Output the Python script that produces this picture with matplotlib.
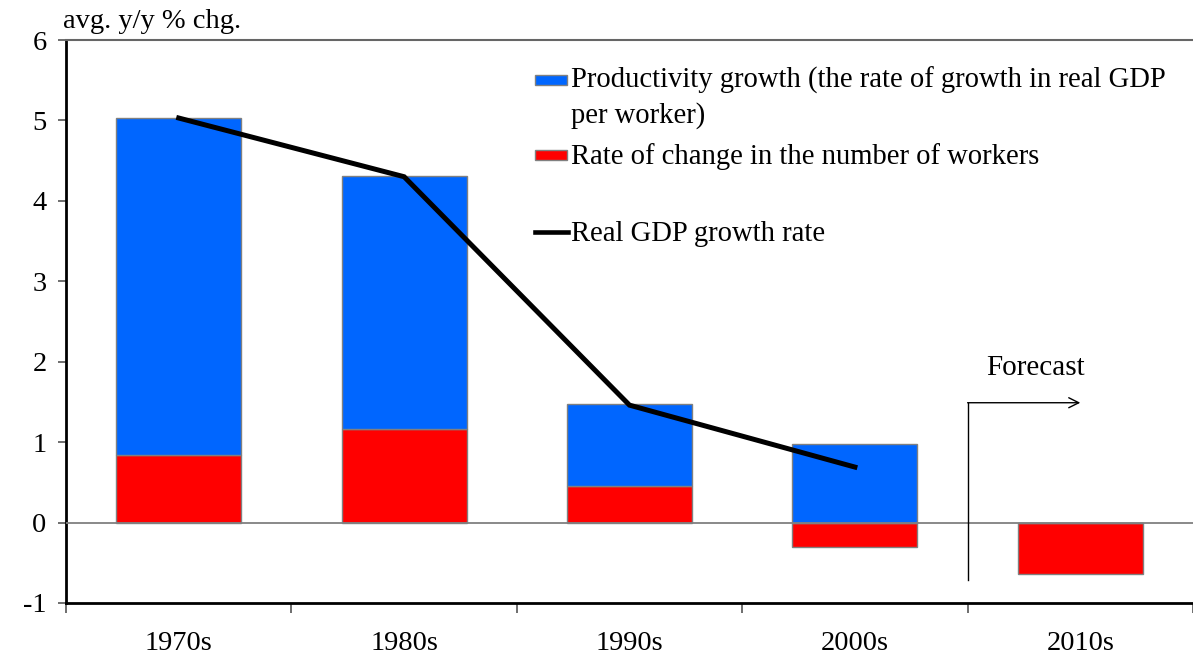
import matplotlib
matplotlib.use("Agg")
import matplotlib.pyplot as plt
import numpy as np
from matplotlib.patches import Rectangle
from matplotlib.lines import Line2D

plt.rcParams['font.family'] = ['Liberation Serif', 'DejaVu Serif']

categories = ['1970s', '1980s', '1990s', '2000s', '2010s']
workers = [0.84, 1.16, 0.46, -0.30, -0.64]
productivity = [4.19, 3.15, 1.01, 0.98, 0.0]
gdp = [5.03, 4.30, 1.46, 0.69]

W, H = 1193, 659
fig = plt.figure(figsize=(W / 100, H / 100), dpi=100)
ax = fig.add_axes([66 / W, 1 - 603 / H, (1193 - 66) / W, (603 - 40) / H])

x = np.arange(len(categories))
bw = 0.555
blue = '#0066FF'
red = '#FF0000'
edge = '#808080'

ax.bar(x, workers, width=bw, color=red, edgecolor=edge, linewidth=1.0, zorder=2)
bottoms = [w if w > 0 else 0 for w in workers]
ax.bar(x, productivity, bottom=bottoms, width=bw, color=blue, edgecolor=edge,
       linewidth=1.0, zorder=2)
ax.plot(x[:len(gdp)], gdp, color='black', linewidth=3.6, zorder=4,
        solid_joinstyle='miter')

ax.axhline(0, color='#808080', linewidth=1.3, zorder=3)

ax.set_xlim(-0.5, 4.5)
ax.set_ylim(-1, 6)
ax.set_yticks(range(-1, 7))
ax.set_yticklabels([str(v) for v in range(-1, 7)], fontsize=20.5)
ax.tick_params(axis='y', direction='out', length=6, width=1.2, color='#555555', pad=8)

ax.set_xticks(np.arange(-0.5, 5.0, 1.0))
ax.set_xticklabels([])
ax.set_xticks(x, minor=True)
ax.set_xticklabels(categories, minor=True, fontsize=20.5)
ax.tick_params(axis='x', which='major', direction='out', length=7, width=1.2, color='#555555')
ax.tick_params(axis='x', which='minor', length=0, pad=20)

for s in ['left', 'bottom']:
    ax.spines[s].set_linewidth(2.0)
    ax.spines[s].set_color('black')
ax.spines['top'].set_color('#666666')
ax.spines['top'].set_linewidth(1.5)
ax.spines['right'].set_visible(False)

# Forecast annotation
ax.plot([3.5, 3.5], [-0.72, 1.49], color='black', linewidth=1.0, zorder=3)
ax.annotate('', xy=(4.0, 1.49), xytext=(3.5, 1.49),
            arrowprops=dict(arrowstyle='->', color='black', lw=1.0,
                            shrinkA=0, shrinkB=0, mutation_scale=18))
ax.text(3.8, 1.92, 'Forecast', fontsize=21, ha='center', va='center')

# y unit label
fig.text(63 / W, 1 - 22 / H, 'avg. y/y % chg.', fontsize=20.5, ha='left', va='center')

# Legend (manual)
def fx(px):
    return px / W

def fy(py):
    return 1 - py / H

fig.patches.append(Rectangle((fx(535), fy(85)), 32 / W, 10 / H, transform=fig.transFigure,
                             facecolor=blue, edgecolor=edge, linewidth=1.0))
fig.patches.append(Rectangle((fx(535), fy(160)), 32 / W, 10 / H, transform=fig.transFigure,
                             facecolor=red, edgecolor=edge, linewidth=1.0))
fig.lines.append(Line2D([fx(535), fx(568)], [fy(232), fy(232)], transform=fig.transFigure,
                        color='black', linewidth=3.3))
lfs = 20.6
fig.text(fx(571), fy(80), 'Productivity growth (the rate of growth in real GDP',
         fontsize=lfs, ha='left', va='center')
fig.text(fx(571), fy(116), 'per worker)', fontsize=lfs, ha='left', va='center')
fig.text(fx(571), fy(157), 'Rate of change in the number of workers', fontsize=lfs,
         ha='left', va='center')
fig.text(fx(571), fy(234), 'Real GDP growth rate', fontsize=lfs, ha='left', va='center')

fig.savefig('out.png', dpi=100)
